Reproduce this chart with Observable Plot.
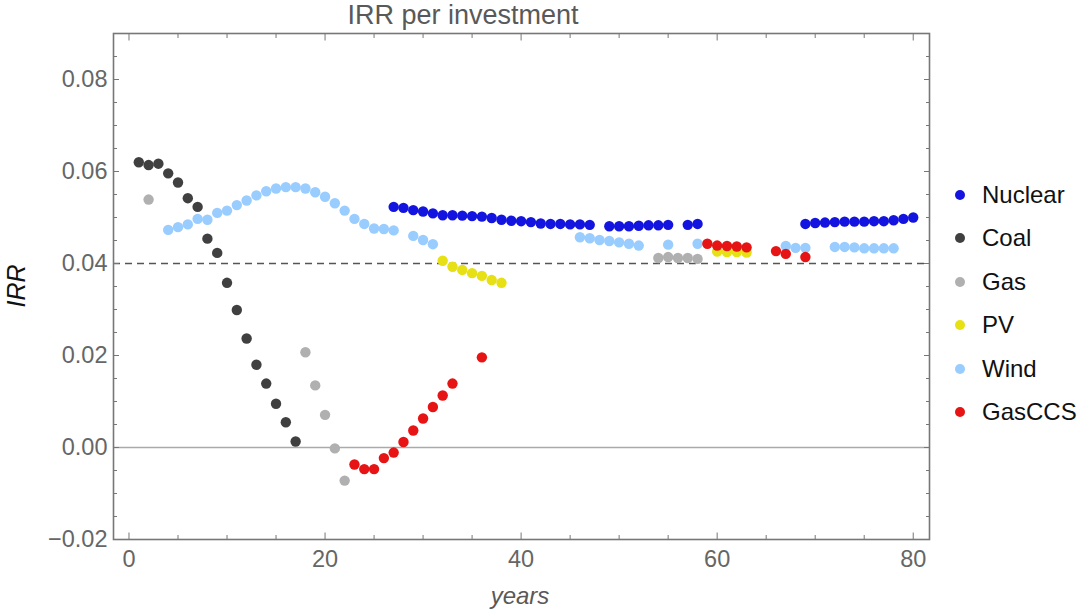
<!DOCTYPE html>
<html>
<head>
<meta charset="utf-8">
<script src="https://cdn.jsdelivr.net/npm/d3@7"></script>
<script src="https://cdn.jsdelivr.net/npm/@observablehq/plot@0.6"></script>
<style>
  html, body { margin: 0; padding: 0; background: #fff; }
  #wrap { position: relative; width: 1084px; height: 616px; font-family: "Liberation Sans", Arial, sans-serif; }
  #chart { position: absolute; left: 0; top: 0; }
  .title { position: absolute; left: 263px; width: 400px; top: 0px; text-align: center; font-size: 27px; color: #595959; }
  .xlab { position: absolute; left: 420px; width: 200px; top: 582px; text-align: center; font-size: 24px; font-style: italic; color: #595959; }
  .ylab { position: absolute; left: 16px; top: 286px; transform: translate(-50%, -50%) rotate(-90deg); font-size: 25px; font-style: italic; color: #111; white-space: nowrap; }
  .legend { position: absolute; left: 950px; top: 173px; }
  .legend .row { display: flex; align-items: center; height: 43.5px; font-size: 24px; color: #111; }
  .legend .sw { width: 10px; height: 10px; border-radius: 50%; margin-right: 17px; margin-left: 5px; }
</style>
</head>
<body>
<div id="wrap">
  <div id="chart"></div>
  <div class="title">IRR per investment</div>
  <div class="xlab">years</div>
  <div class="ylab">IRR</div>
  <div class="legend" id="legend"></div>
</div>
<script>
// ---- data ----
const seriesNames = ["Nuclear", "Coal", "Gas", "PV", "Wind", "GasCCS"];
const seriesColors = ["#1414e0", "#404040", "#b0b0b0", "#e6e014", "#99ccff", "#e61414"];

const nuclearYears = [27,28,29,30,31,32,33,34,35,36,37,38,39,40,41,42,43,44,45,46,47,49,50,51,52,53,54,55,57,58,69,70,71,72,73,74,75,76,77,78,79,80];
const nuclearIRR = [0.0523,0.0521,0.0516,0.0513,0.0509,0.0505,0.0505,0.0504,0.0503,0.0502,0.0499,0.0495,0.0493,0.0492,0.0490,0.0487,0.0486,0.0486,0.0485,0.0485,0.0484,0.0481,0.0481,0.0481,0.0482,0.0483,0.0483,0.0484,0.0484,0.0486,0.0486,0.0488,0.0489,0.0490,0.0491,0.0491,0.0491,0.0492,0.0492,0.0494,0.0497,0.0500];

const coalYears = [1,2,3,4,5,6,7,8,9,10,11,12,13,14,15,16,17];
const coalIRR = [0.0620,0.0614,0.0617,0.0596,0.0576,0.0542,0.0523,0.0454,0.0423,0.0358,0.0299,0.0237,0.0180,0.0139,0.0095,0.0055,0.0013];

const gasYears = [2,18,19,20,21,22,54,55,56,57,58];
const gasIRR = [0.0539,0.0207,0.0135,0.0071,-0.0002,-0.0072,0.0412,0.0414,0.0412,0.0412,0.0410];

const pvYears = [32,33,34,35,36,37,38,60,61,62,63];
const pvIRR = [0.0406,0.0393,0.0386,0.0379,0.0373,0.0364,0.0358,0.0426,0.0425,0.0425,0.0424];

const windYears = [4,5,6,7,8,9,10,11,12,13,14,15,16,17,18,19,20,21,22,23,24,25,26,27,29,30,31,46,47,48,49,50,51,52,55,58,67,68,69,72,73,74,75,76,77,78];
const windIRR = [0.0473,0.0479,0.0485,0.0497,0.0495,0.0510,0.0515,0.0527,0.0537,0.0548,0.0557,0.0563,0.0566,0.0566,0.0563,0.0555,0.0545,0.0531,0.0515,0.0497,0.0486,0.0476,0.0475,0.0472,0.0460,0.0451,0.0442,0.0457,0.0455,0.0451,0.0449,0.0446,0.0443,0.0439,0.0441,0.0443,0.0438,0.0434,0.0434,0.0436,0.0436,0.0435,0.0433,0.0433,0.0433,0.0433];

const gasccsYears = [23,24,25,26,27,28,29,30,31,32,33,36,59,60,61,62,63,66,67,69];
const gasccsIRR = [-0.0037,-0.0047,-0.0047,-0.0023,-0.0011,0.0012,0.0037,0.0063,0.0088,0.0113,0.0139,0.0196,0.0443,0.0439,0.0438,0.0437,0.0435,0.0427,0.0421,0.0414];

const xMajorTicks = [0, 20, 40, 60, 80];
const xMinorTicks = [5, 10, 15, 25, 30, 35, 45, 50, 55, 65, 70, 75];
const yMajorTicks = [-0.02, 0, 0.02, 0.04, 0.06, 0.08];
const yMinorTicks = [-0.015, -0.01, -0.005, 0.005, 0.01, 0.015, 0.025, 0.03, 0.035, 0.045, 0.05, 0.055, 0.065, 0.07, 0.075, 0.085];
const yTickLabels = ["\u22120.02", "0.00", "0.02", "0.04", "0.06", "0.08"];
const thresholdIRR = 0.04;

// ---- build table ----
const seriesData = [
  [nuclearYears, nuclearIRR], [coalYears, coalIRR], [gasYears, gasIRR],
  [pvYears, pvIRR], [windYears, windIRR], [gasccsYears, gasccsIRR]
];
const points = seriesData.flatMap(([ys, vs], i) => ys.map((yr, j) => ({series: seriesNames[i], year: yr, irr: vs[j]})));

const tickColor = "#777";
const labelColor = "#666";

const plot = Plot.plot({
  width: 1084,
  height: 616,
  marginLeft: 113,
  marginRight: 155,
  marginTop: 33,
  marginBottom: 77,
  style: {fontFamily: "'Liberation Sans', Arial, sans-serif", fontSize: "23.5px", background: "white"},
  x: {domain: [-1.58, 81.66]},
  y: {domain: [-0.02, 0.09]},
  color: {domain: seriesNames, range: seriesColors},
  marks: [
    Plot.ruleY([0], {stroke: "#aaa", strokeWidth: 1.6}),
    Plot.ruleY([thresholdIRR], {stroke: "#555", strokeWidth: 1.3, strokeDasharray: "7,5"}),
    Plot.dot(points, {x: "year", y: "irr", fill: "series", r: 5.2, stroke: "none"}),
    Plot.frame({stroke: tickColor, strokeWidth: 1.6}),
    // tick labels
    Plot.axisX(xMajorTicks, {anchor: "bottom", tickSize: 0, tickPadding: 11, fill: labelColor, label: null}),
    Plot.axisY(yMajorTicks, {anchor: "left", tickSize: 0, tickPadding: 6, fill: labelColor, label: null,
      tickFormat: (d) => yTickLabels[yMajorTicks.indexOf(d)]}),
    // inward ticks
    Plot.axisX(xMajorTicks, {anchor: "bottom", tickSize: -6.5, fill: "none", stroke: tickColor, label: null}),
    Plot.axisX(xMinorTicks, {anchor: "bottom", tickSize: -4, fill: "none", stroke: tickColor, label: null}),
    Plot.axisX(xMajorTicks, {anchor: "top", tickSize: -6.5, fill: "none", stroke: tickColor, label: null}),
    Plot.axisX(xMinorTicks, {anchor: "top", tickSize: -4, fill: "none", stroke: tickColor, label: null}),
    Plot.axisY(yMajorTicks, {anchor: "left", tickSize: -6, fill: "none", stroke: tickColor, label: null}),
    Plot.axisY(yMinorTicks, {anchor: "left", tickSize: -4, fill: "none", stroke: tickColor, label: null}),
    Plot.axisY(yMajorTicks, {anchor: "right", tickSize: -6, fill: "none", stroke: tickColor, label: null}),
    Plot.axisY(yMinorTicks, {anchor: "right", tickSize: -4, fill: "none", stroke: tickColor, label: null})
  ]
});
document.getElementById("chart").appendChild(plot);

// legend
const legend = document.getElementById("legend");
seriesNames.forEach((name, i) => {
  const row = document.createElement("div");
  row.className = "row";
  const sw = document.createElement("span");
  sw.className = "sw";
  sw.style.background = seriesColors[i];
  const t = document.createElement("span");
  t.textContent = name;
  row.appendChild(sw);
  row.appendChild(t);
  legend.appendChild(row);
});
</script>
</body>
</html>
